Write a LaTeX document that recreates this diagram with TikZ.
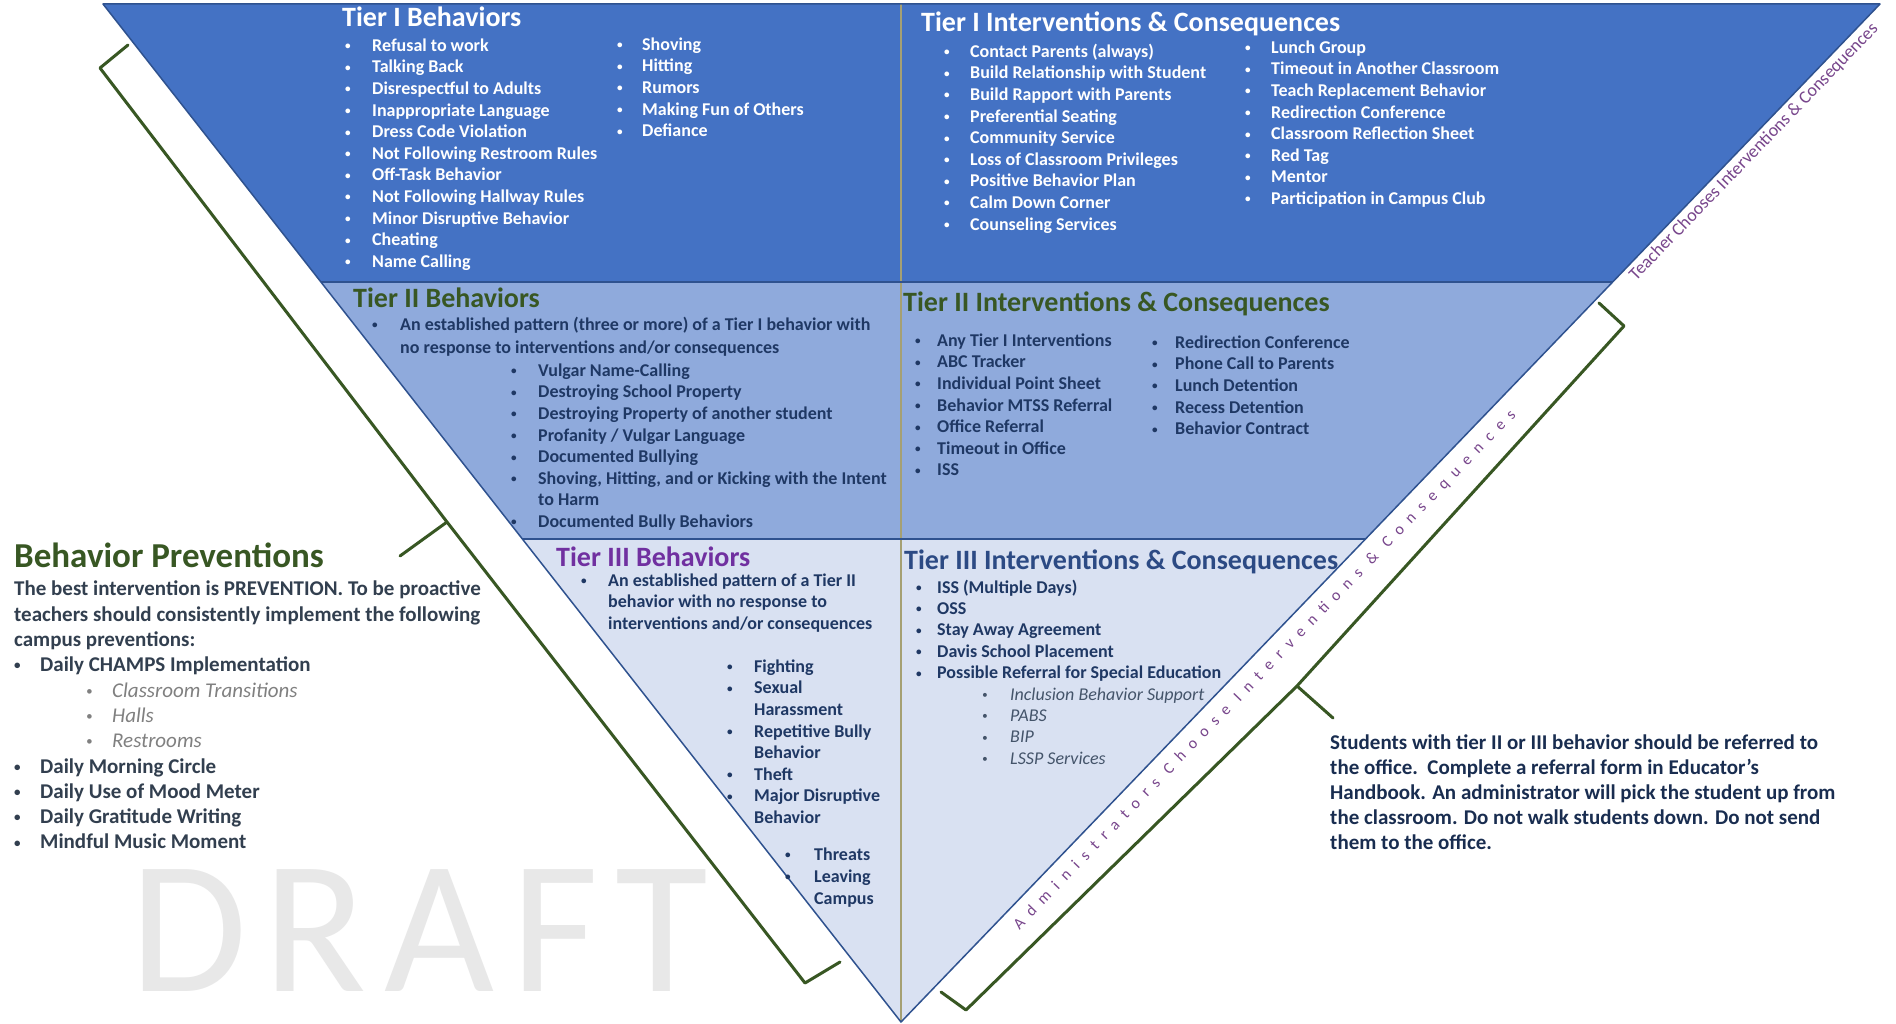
\documentclass[tikz,border=0pt]{standalone}
\usepackage{graphicx}
\usepackage{fontspec}
\setmainfont{Carlito}
\usetikzlibrary{calc}
\definecolor{tieronefill}{RGB}{68,114,196}
\definecolor{tiertwofill}{RGB}{143,170,220}
\definecolor{tierthreefill}{RGB}{217,225,242}
\definecolor{edgeblue}{RGB}{47,82,143}
\definecolor{dividerolive}{RGB}{165,160,115}
\definecolor{bracegreen}{RGB}{56,87,35}
\definecolor{headgreen}{RGB}{56,87,35}
\definecolor{headpurple}{RGB}{112,48,160}
\definecolor{headnavy}{RGB}{44,74,132}
\definecolor{itemnavy}{RGB}{31,56,100}
\definecolor{itemgrey}{RGB}{68,84,106}
\definecolor{sidepurple}{RGB}{120,70,140}
\definecolor{bodyslate}{RGB}{50,63,79}
\definecolor{watermark}{RGB}{232,232,232}
% bullet line and wrapped continuation line
\newcommand{\itm}[2][26pt]{\strut\makebox[#1][l]{\raisebox{0.09em}{\scalebox{0.62}{\textbullet}}}#2}
\newcommand{\cnt}[2][26pt]{\strut\hspace*{#1}#2}
\tikzset{
  tierline/.style={draw=edgeblue,line width=2pt},
  brace/.style={draw=bracegreen,line width=3pt,line join=round,line cap=round},
  head/.style={anchor=base west,inner sep=0pt,font=\fontsize{28}{34}\selectfont\bfseries},
  items/.style={anchor=north west,inner sep=0pt,align=left,
                font=\fontsize{18}{21.6}\selectfont\bfseries},
  sidenote/.style={inner sep=0pt,text=sidepurple,rotate=46},
}
\begin{document}
\begin{tikzpicture}[x=1pt,y=-1pt]
  \path[use as bounding box,fill=white] (0,0) rectangle (1896,1024);

  % watermark behind everything
  \node[anchor=base west,inner sep=0pt,text=watermark,
        font=\fontsize{190}{228}\selectfont\addfontfeature{LetterSpace=9}] (draft) at (130,991) {DRAFT};

  % inverted pyramid and its tier cuts
  \coordinate (tl) at (103,4);
  \coordinate (tr) at (1880,4);
  \coordinate (apex) at (901,1022);
  \coordinate (mid) at (901,4);
  \coordinate (l2) at ($(tl)!0.2731!(apex)$);
  \coordinate (r2) at ($(tr)!0.2731!(apex)$);
  \coordinate (l3) at ($(tl)!0.5255!(apex)$);
  \coordinate (r3) at ($(tr)!0.5255!(apex)$);

  \fill[tieronefill] (tl) -- (tr) -- (r2) -- (l2) -- cycle;
  \fill[tiertwofill] (l2) -- (r2) -- (r3) -- (l3) -- cycle;
  \fill[tierthreefill] (l3) -- (r3) -- (apex) -- cycle;
  \draw[dividerolive,line width=1.5pt] (mid) -- (apex);
  \draw[tierline] (l2) -- (r2) (l3) -- (r3);
  \draw[edgeblue,line width=1.5pt,line join=round] (tl) -- (tr) -- (apex) -- cycle;

  % tier I
  \node[head,text=white] (t1beh) at (342,27) {Tier I Behaviors};
  \node[items,text=white] (t1behA) at (345,36)
    {\itm[27pt]{Refusal to work}\\ \itm[27pt]{Talking Back}\\ \itm[27pt]{Disrespectful to Adults}\\
     \itm[27pt]{Inappropriate Language}\\ \itm[27pt]{Dress Code Violation}\\
     \itm[27pt]{Not Following Restroom Rules}\\ \itm[27pt]{Off-Task Behavior}\\
     \itm[27pt]{Not Following Hallway Rules}\\ \itm[27pt]{Minor Disruptive Behavior}\\
     \itm[27pt]{Cheating}\\ \itm[27pt]{Name Calling}};
  \node[items,text=white] (t1behB) at (617,35)
    {\itm[25pt]{Shoving}\\ \itm[25pt]{Hitting}\\ \itm[25pt]{Rumors}\\
     \itm[25pt]{Making Fun of Others}\\ \itm[25pt]{Defiance}};
  \node[head,text=white] (t1int) at (921,32) {Tier I Interventions \& Consequences};
  \node[items,text=white] (t1intA) at (944,42)
    {\itm{Contact Parents (always)}\\ \itm{Build Relationship with Student}\\
     \itm{Build Rapport with Parents}\\ \itm{Preferential Seating}\\ \itm{Community Service}\\
     \itm{Loss of Classroom Privileges}\\ \itm{Positive Behavior Plan}\\
     \itm{Calm Down Corner}\\ \itm{Counseling Services}};
  \node[items,text=white] (t1intB) at (1245,38)
    {\itm{Lunch Group}\\ \itm{Timeout in Another Classroom}\\ \itm{Teach Replacement Behavior}\\
     \itm{Redirection Conference}\\ \itm{Classroom Reflection Sheet}\\ \itm{Red Tag}\\
     \itm{Mentor}\\ \itm{Participation in Campus Club}};

  % tier II
  \node[head,text=headgreen] (t2beh) at (353,308) {Tier II Behaviors};
  \node[items,text=itemnavy,font=\fontsize{18}{23}\selectfont\bfseries] (t2behA) at (372,314)
    {\itm[28pt]{An established pattern (three or more) of a Tier I behavior with}\\
     \cnt[28pt]{no response to interventions and/or consequences}};
  \node[items,text=itemnavy] (t2behB) at (511,361)
    {\itm[27pt]{Vulgar Name-Calling}\\ \itm[27pt]{Destroying School Property}\\
     \itm[27pt]{Destroying Property of another student}\\ \itm[27pt]{Profanity / Vulgar Language}\\
     \itm[27pt]{Documented Bullying}\\ \itm[27pt]{Shoving, Hitting, and or Kicking with the Intent}\\
     \cnt[27pt]{to Harm}\\ \itm[27pt]{Documented Bully Behaviors}};
  \node[head,text=headgreen] (t2int) at (903,312) {Tier II Interventions \& Consequences};
  \node[items,text=itemnavy] (t2intA) at (915,331)
    {\itm[22pt]{Any Tier I Interventions}\\ \itm[22pt]{ABC Tracker}\\ \itm[22pt]{Individual Point Sheet}\\
     \itm[22pt]{Behavior MTSS Referral}\\ \itm[22pt]{Office Referral}\\
     \itm[22pt]{Timeout in Office}\\ \itm[22pt]{ISS}};
  \node[items,text=itemnavy] (t2intB) at (1152,333)
    {\itm[23pt]{Redirection Conference}\\ \itm[23pt]{Phone Call to Parents}\\
     \itm[23pt]{Lunch Detention}\\ \itm[23pt]{Recess Detention}\\ \itm[23pt]{Behavior Contract}};

  % tier III
  \node[head,text=headpurple] (t3beh) at (556,566) {Tier III Behaviors};
  \node[items,text=itemnavy,font=\fontsize{18}{21.5}\selectfont\bfseries] (t3behA) at (581,571)
    {\itm[27pt]{An established pattern of a Tier II}\\ \cnt[27pt]{behavior with no response to}\\
     \cnt[27pt]{interventions and/or consequences}};
  \node[items,text=itemnavy] (t3behB) at (727,657)
    {\itm[27pt]{Fighting}\\ \itm[27pt]{Sexual}\\ \cnt[27pt]{Harassment}\\
     \itm[27pt]{Repetitive Bully}\\ \cnt[27pt]{Behavior}\\ \itm[27pt]{Theft}\\
     \itm[27pt]{Major Disruptive}\\ \cnt[27pt]{Behavior}};
  \node[items,text=itemnavy,font=\fontsize{18}{22}\selectfont\bfseries] (t3behC) at (785,845)
    {\itm[29pt]{Threats}\\ \itm[29pt]{Leaving}\\ \cnt[29pt]{Campus}};
  \node[head,text=headnavy] (t3int) at (904,569) {Tier III Interventions \& Consequences};
  \node[items,text=itemnavy,font=\fontsize{18}{21.4}\selectfont\bfseries] (t3intA) at (916,578)
    {\itm[21pt]{ISS (Multiple Days)}\\ \itm[21pt]{OSS}\\ \itm[21pt]{Stay Away Agreement}\\
     \itm[21pt]{Davis School Placement}\\ \itm[21pt]{Possible Referral for Special Education}\\
     {\normalfont\itshape\color{itemgrey}\hspace*{66pt}\itm[28pt]{Inclusion Behavior Support}}\\
     {\normalfont\itshape\color{itemgrey}\hspace*{66pt}\itm[28pt]{PABS}}\\
     {\normalfont\itshape\color{itemgrey}\hspace*{66pt}\itm[28pt]{BIP}}\\
     {\normalfont\itshape\color{itemgrey}\hspace*{66pt}\itm[28pt]{LSSP Services}}};

  % preventions on the left
  \node[anchor=base west,inner sep=0pt,text=headgreen,
        font=\fontsize{35}{42}\selectfont\bfseries] (prevhead) at (14,567) {Behavior Preventions};
  \node[items,text=bodyslate,font=\fontsize{21}{25.3}\selectfont\bfseries] (prevtext) at (14,578)
    {\strut The best intervention is PREVENTION. To be proactive\\
     \strut teachers should consistently implement the following\\
     \strut campus preventions:\\
     \itm{Daily CHAMPS Implementation}\\
     {\normalfont\itshape\color{gray}\hspace*{72pt}\itm{Classroom Transitions}}\\
     {\normalfont\itshape\color{gray}\hspace*{72pt}\itm{Halls}}\\
     {\normalfont\itshape\color{gray}\hspace*{72pt}\itm{Restrooms}}\\
     \itm{Daily Morning Circle}\\ \itm{Daily Use of Mood Meter}\\
     \itm{Daily Gratitude Writing}\\ \itm{Mindful Music Moment}};

  % office referral note
  \node[items,text=itemnavy!80!black,font=\fontsize{21}{25}\selectfont\bfseries] (refer) at (1330,732)
    {\strut Students with tier II or III behavior should be referred to\\
     \strut the office.\ \ Complete a referral form in Educator’s\\
     \strut Handbook. An administrator will pick the student up from\\
     \strut the classroom. Do not walk students down. Do not send\\
     \strut them to the office.};

  % slanted side labels
  \node[sidenote,font=\fontsize{18}{22}\selectfont] (teachnote) at (1754,152)
    {Teacher Chooses Interventions \& Consequences};
  \node[sidenote,font=\fontsize{16}{20}\selectfont\addfontfeature{LetterSpace=52}] (adminnote) at (1265,670)
    {Administrators Choose Interventions \& Consequences};

  % brackets
  \coordinate (lbA) at (128,45);
  \coordinate (lbB) at (100,68);
  \coordinate (lbM) at (447,522);
  \coordinate (lbT) at (400,556);
  \coordinate (lbC) at (805,983);
  \coordinate (lbD) at (840,962);
  \draw[brace] (lbA) -- (lbB) -- (lbM) -- (lbT) (lbM) -- (lbC) -- (lbD);
  \coordinate (rbA) at (1599,303);
  \coordinate (rbB) at (1624,326);
  \coordinate (rbM) at (1297,686);
  \coordinate (rbT) at (1333,718);
  \coordinate (rbC) at (966,1010);
  \coordinate (rbD) at (941,992);
  \draw[brace] (rbA) -- (rbB) -- (rbM) -- (rbT) (rbM) -- (rbC) -- (rbD);
\end{tikzpicture}
\end{document}
